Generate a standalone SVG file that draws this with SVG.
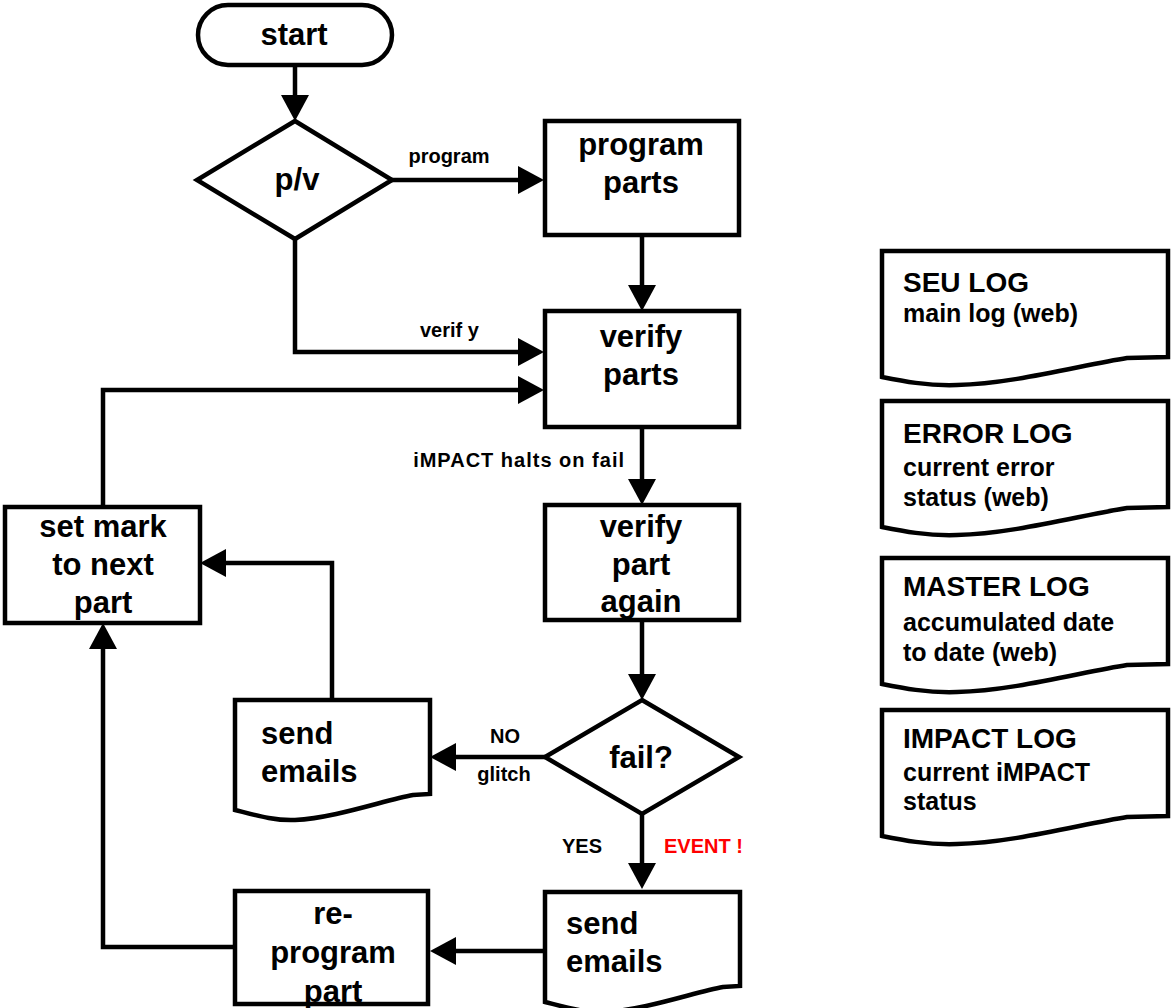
<svg xmlns="http://www.w3.org/2000/svg" width="1172" height="1008" viewBox="0 0 1172 1008">
<defs>
<style>
.shape{fill:#fff;stroke:#000;stroke-width:4.5;stroke-linejoin:miter}
.line{fill:none;stroke:#000;stroke-width:4.5}
text{font-family:"Liberation Sans",Arial,sans-serif;font-weight:bold;fill:#000}
.big{font-size:31px;text-anchor:middle}
.bigl{font-size:31px}
.lbl{font-size:20px}
.title{font-size:28px}
.sub{font-size:25px}
.red{fill:#ff0000}
</style>
<marker id="arr" viewBox="0 0 26 28" refX="6" refY="14" markerWidth="26" markerHeight="28" markerUnits="userSpaceOnUse" orient="auto">
<path d="M0,0 L26,14 L0,28 Z" fill="#000"/>
</marker>
<path id="doc" d="M0,0 H195 V94 L178,95 C150,100 100,118 60,120 C40,121 20,115 0,110 Z"/>
<path id="log" d="M0,0 H286 V106 L245,107 C200,114 130,133 75,134 C45,135 20,130 0,126 Z"/>
</defs>

<g id="connectors">
<path class="line" d="M295,65 V101" marker-end="url(#arr)"/>
<path class="line" d="M391,180 H524" marker-end="url(#arr)"/>
<text class="lbl" x="449" y="163" text-anchor="middle">program</text>
<path class="line" d="M295,239 V352 H524" marker-end="url(#arr)"/>
<text class="lbl" x="420" y="337">verif y</text>
<path class="line" d="M642,235 V291" marker-end="url(#arr)"/>
<path class="line" d="M103,507 V390 H524" marker-end="url(#arr)"/>
<path class="line" d="M642,427 V485" marker-end="url(#arr)"/>
<text class="lbl" x="625" y="467" text-anchor="end" letter-spacing="1">iMPACT halts on fail</text>
<path class="line" d="M642,620 V680" marker-end="url(#arr)"/>
<path class="line" d="M545,757 H450" marker-end="url(#arr)"/>
<text class="lbl" x="505" y="743" text-anchor="middle">NO</text>
<text class="lbl" x="504" y="781" text-anchor="middle">glitch</text>
<path class="line" d="M642,814 V869" marker-end="url(#arr)"/>
<text class="lbl" x="562" y="853">YES</text>
<text class="lbl red" x="664" y="853">EVENT !</text>
<path class="line" d="M332,700 V563 H220" marker-end="url(#arr)"/>
<path class="line" d="M545,951 H450" marker-end="url(#arr)"/>
<path class="line" d="M235,947 H103 V643" marker-end="url(#arr)"/>
</g>

<g id="start">
<rect class="shape" x="198" y="5" width="194" height="60" rx="30" ry="30"/>
<text class="big" x="294" y="45">start</text>
</g>

<g id="pv">
<polygon class="shape" points="295,121 392,180 295,239 197,180"/>
<text class="big" x="297" y="190">p/v</text>
</g>

<g id="program-parts">
<rect class="shape" x="545" y="121" width="194" height="114"/>
<text class="big" x="641" y="155">program</text>
<text class="big" x="641" y="193">parts</text>
</g>

<g id="verify-parts">
<rect class="shape" x="545" y="311" width="194" height="116"/>
<text class="big" x="641" y="347">verify</text>
<text class="big" x="641" y="385">parts</text>
</g>

<g id="verify-again">
<rect class="shape" x="545" y="505" width="194" height="115"/>
<text class="big" x="641" y="537">verify</text>
<text class="big" x="641" y="575">part</text>
<text class="big" x="641" y="612">again</text>
</g>

<g id="fail">
<polygon class="shape" points="642,700 739,757 642,814 545,757"/>
<text class="big" x="641" y="768">fail?</text>
</g>

<g id="send-emails-1">
<use href="#doc" class="shape" x="235" y="700"/>
<text class="bigl" x="261" y="744">send</text>
<text class="bigl" x="261" y="782">emails</text>
</g>

<g id="send-emails-2">
<use href="#doc" class="shape" x="545" y="892"/>
<text class="bigl" x="566" y="934">send</text>
<text class="bigl" x="566" y="972">emails</text>
</g>

<g id="set-mark">
<rect class="shape" x="5" y="507" width="195" height="116"/>
<text class="big" x="103" y="537">set mark</text>
<text class="big" x="103" y="575">to next</text>
<text class="big" x="103" y="613">part</text>
</g>

<g id="reprogram">
<rect class="shape" x="235" y="891" width="193" height="113"/>
<text class="big" x="333" y="924">re-</text>
<text class="big" x="333" y="963">program</text>
<text class="big" x="333" y="1002">part</text>
</g>

<g id="seu-log">
<use href="#log" class="shape" x="882" y="251"/>
<text class="title" x="903" y="292">SEU LOG</text>
<text class="sub" x="903" y="322">main log (web)</text>
</g>

<g id="error-log">
<use href="#log" class="shape" x="882" y="401"/>
<text class="title" x="903" y="443">ERROR LOG</text>
<text class="sub" x="903" y="476">current error</text>
<text class="sub" x="903" y="506">status (web)</text>
</g>

<g id="master-log">
<use href="#log" class="shape" x="882" y="558"/>
<text class="title" x="903" y="596">MASTER LOG</text>
<text class="sub" x="903" y="631">accumulated date</text>
<text class="sub" x="903" y="661">to date (web)</text>
</g>

<g id="impact-log">
<use href="#log" class="shape" x="882" y="710"/>
<text class="title" x="903" y="748">IMPACT LOG</text>
<text class="sub" x="903" y="781">current iMPACT</text>
<text class="sub" x="903" y="810">status</text>
</g>
</svg>
